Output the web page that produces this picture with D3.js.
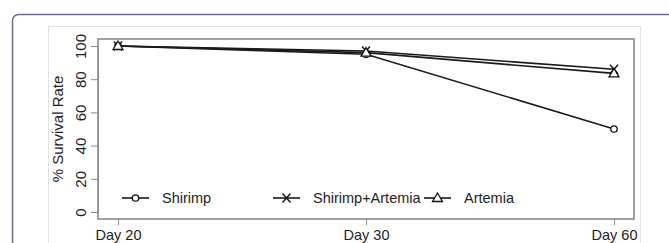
<!DOCTYPE html>
<html>
<head>
<meta charset="utf-8">
<script src="https://cdn.jsdelivr.net/npm/d3@7"></script>
<style>
  body { margin: 0; background: #fff; }
  svg text { font-family: "Liberation Sans", Arial, sans-serif; fill: #222; }
</style>
</head>
<body>
<svg id="chart" width="669" height="243"></svg>
<script>
// data
const days = ["Day 20", "Day 30", "Day 60"];
const shrimp = [100, 95, 50];
const shrimpArtemia = [100, 97, 86];
const artemia = [100, 96, 83.5];
const yTicks = [0, 20, 40, 60, 80, 100];
const seriesNames = ["Shirimp", "Shirimp+Artemia", "Artemia"];

const svg = d3.select("#chart");

// outer frame of the figure panel
svg.append("rect")
  .attr("x", 12.5).attr("y", 14.5)
  .attr("width", 700).attr("height", 260)
  .attr("rx", 6)
  .attr("fill", "none")
  .attr("stroke", "#6d6b9e")
  .attr("stroke-width", 1.5);

// light border round the embedded image
svg.append("rect")
  .attr("x", 48.5).attr("y", 26.5)
  .attr("width", 592).attr("height", 240)
  .attr("fill", "#fff")
  .attr("stroke", "#e2e2e2");

const box = {left: 98, right: 634, top: 39, bottom: 219};

const x = d3.scalePoint().domain(days).range([118, 614]);
const y = d3.scaleLinear().domain([0, 100]).range([212, 46]);

// plot box
svg.append("rect")
  .attr("x", box.left).attr("y", box.top)
  .attr("width", box.right - box.left).attr("height", box.bottom - box.top)
  .attr("fill", "none")
  .attr("stroke", "#8a8a8a")
  .attr("stroke-width", 1.6);

// y axis
const yAxis = svg.append("g")
  .attr("transform", `translate(${box.left},0)`)
  .call(d3.axisLeft(y).tickValues(yTicks).tickSize(7).tickSizeOuter(0).tickPadding(0));
yAxis.select(".domain").attr("stroke", "#8a8a8a");
yAxis.selectAll(".tick line").attr("stroke", "#8a8a8a");
yAxis.selectAll(".tick text")
  .attr("x", null).attr("dy", null)
  .attr("transform", "translate(-18,0) rotate(-90)")
  .attr("text-anchor", "middle")
  .attr("dominant-baseline", "central")
  .style("font-size", "15px");

// x axis
const xAxis = svg.append("g")
  .attr("transform", `translate(0,${box.bottom})`)
  .call(d3.axisBottom(x).tickSize(6).tickSizeOuter(0).tickPadding(4));
xAxis.select(".domain").remove();
xAxis.selectAll(".tick line").attr("stroke", "#8a8a8a");
xAxis.selectAll(".tick text").style("font-size", "14.5px").attr("dy", "0.76em");

// y label
svg.append("text")
  .attr("transform", "translate(57,129) rotate(-90)")
  .attr("text-anchor", "middle")
  .attr("dominant-baseline", "central")
  .style("font-size", "15px")
  .text("% Survival Rate");

// series
const series = [
  {name: seriesNames[0], values: shrimp, mark: "circle"},
  {name: seriesNames[1], values: shrimpArtemia, mark: "cross"},
  {name: seriesNames[2], values: artemia, mark: "triangle"}
];

const line = d3.line().x((d, i) => x(days[i])).y(d => y(d));

function drawMark(g, kind, cx, cy) {
  if (kind === "circle") {
    g.append("circle").attr("cx", cx).attr("cy", cy).attr("r", 3.2)
      .attr("fill", "#fff").attr("stroke", "#111").attr("stroke-width", 1.3);
  } else if (kind === "cross") {
    g.append("path")
      .attr("d", `M${cx - 4},${cy - 4.5}L${cx + 4},${cy + 4.5}M${cx - 4},${cy + 4.5}L${cx + 4},${cy - 4.5}`)
      .attr("stroke", "#111").attr("stroke-width", 1.4).attr("fill", "none");
  } else {
    g.append("path")
      .attr("d", `M${cx},${cy - 5}L${cx + 5},${cy + 3.5}L${cx - 5},${cy + 3.5}Z`)
      .attr("stroke", "#111").attr("stroke-width", 1.3).attr("fill", "#fff");
  }
}

series.forEach(s => {
  svg.append("path")
    .datum(s.values)
    .attr("d", line)
    .attr("fill", "none")
    .attr("stroke", "#1a1a1a")
    .attr("stroke-width", 1.6);
});
series.forEach(s => {
  const g = svg.append("g");
  s.values.forEach((v, i) => drawMark(g, s.mark, x(days[i]), y(v)));
});

// legend
const legendY = 198;
const legendX = [122, 273, 424];
series.forEach((s, i) => {
  const g = svg.append("g");
  g.append("line")
    .attr("x1", legendX[i]).attr("x2", legendX[i] + 27)
    .attr("y1", legendY).attr("y2", legendY)
    .attr("stroke", "#1a1a1a").attr("stroke-width", 1.6);
  drawMark(g, s.mark, legendX[i] + 13.5, legendY);
  g.append("text")
    .attr("x", legendX[i] + 40).attr("y", legendY)
    .attr("dominant-baseline", "central")
    .style("font-size", "14.5px")
    .text(s.name);
});
</script>
</body>
</html>
